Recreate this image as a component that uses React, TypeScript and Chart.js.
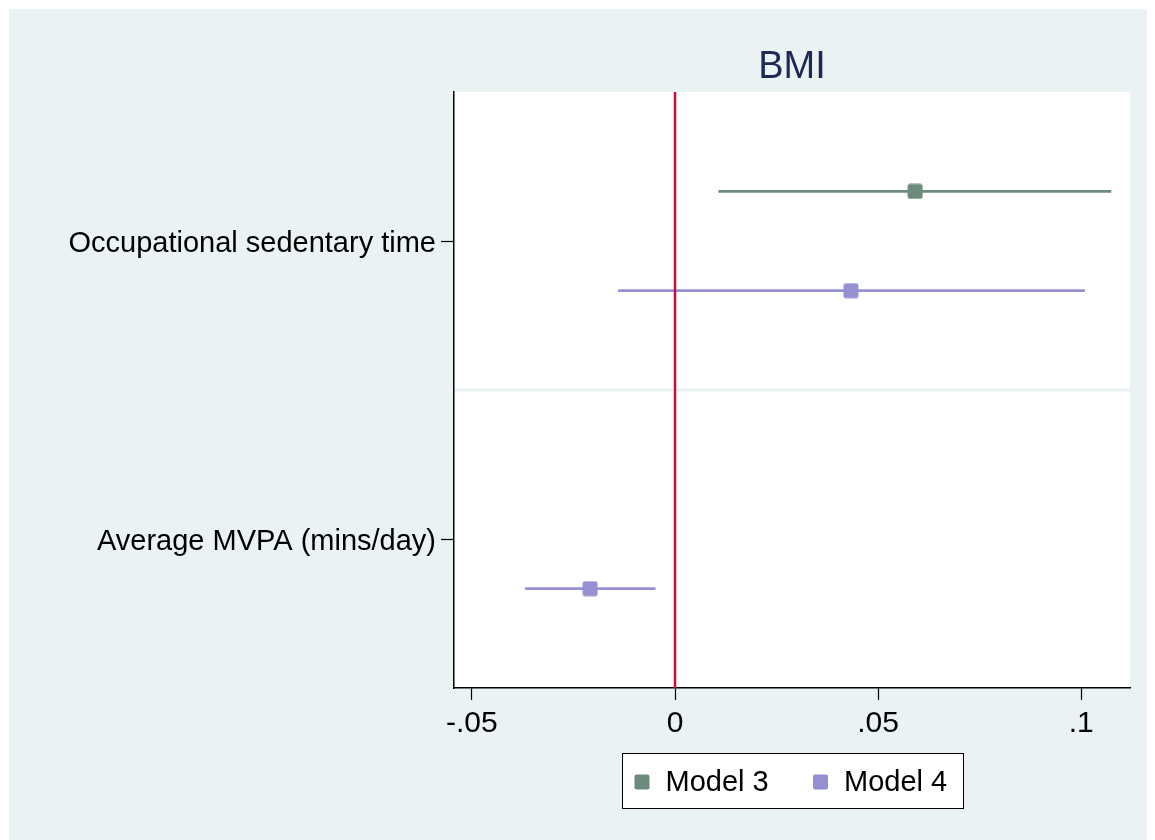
import { useEffect, useRef } from "react";
import { Chart, registerables } from "chart.js";

Chart.register(...registerables);

// ---- data ----
const categories = ["Occupational sedentary time", "Average MVPA (mins/day)"];
const seriesNames = ["Model 3", "Model 4"];
const model3Est: (number | null)[] = [0.0591, null];
const model3Lo: (number | null)[] = [0.0107, null];
const model3Hi: (number | null)[] = [0.1074, null];
const model4Est: (number | null)[] = [0.0433, -0.0209];
const model4Lo: (number | null)[] = [-0.014, -0.0369];
const model4Hi: (number | null)[] = [0.1009, -0.0048];
const xTicks = [-0.05, 0, 0.05, 0.1];
const titleText = "BMI";

// ---- styles ----
const FONT = "'Liberation Sans', Arial, Helvetica, sans-serif";
const BG = "#eaf2f3";
const COLORS = ["#6c8b7d", "#9590d2"];
const ZERO_COLOR = "#cc0c3c";
const TITLE_COLOR = "#1c2a55";
const OFFSETS = [-1 / 6, 1 / 6];

function makeMarker(color: string) {
  const c = document.createElement("canvas");
  c.width = 16;
  c.height = 16;
  const g = c.getContext("2d")!;
  g.fillStyle = color;
  g.beginPath();
  (g as any).roundRect(0.5, 0.5, 15, 15, 2.5);
  g.fill();
  return c;
}

const fmtTick = (v: number) => (v === 0 ? "0" : String(v).replace("0.", "."));

export default function App() {
  const ref = useRef<HTMLCanvasElement>(null);
  useEffect(() => {
    if (!ref.current) return;
    const est = [model3Est, model4Est];
    const lo = [model3Lo, model4Lo];
    const hi = [model3Hi, model4Hi];
    const datasets: any[] = [];
    datasets.push({
      type: "line",
      label: "zero",
      data: [
        { x: 0, y: 0.5 },
        { x: 0, y: 2.5 },
      ],
      borderColor: ZERO_COLOR,
      borderWidth: 2.5,
      pointRadius: 0,
      order: 0,
    });
    seriesNames.forEach((name, s) => {
      categories.forEach((_, i) => {
        if (lo[s][i] == null || hi[s][i] == null) return;
        const y = i + 1 + OFFSETS[s];
        datasets.push({
          type: "line",
          label: name + " CI",
          data: [
            { x: lo[s][i], y },
            { x: hi[s][i], y },
          ],
          borderColor: COLORS[s],
          borderWidth: 2.7,
          pointRadius: 0,
          order: 2,
        });
      });
    });
    seriesNames.forEach((name, s) => {
      const marker = makeMarker(COLORS[s]);
      datasets.push({
        type: "scatter",
        label: name,
        isSeries: true,
        data: categories
          .map((_, i) => (est[s][i] == null ? null : { x: est[s][i], y: i + 1 + OFFSETS[s] }))
          .filter((d) => d != null),
        backgroundColor: COLORS[s],
        borderColor: COLORS[s],
        pointStyle: marker,
        pointRadius: 8,
        order: 1,
      });
    });

    const stataPlugin = {
      id: "stataPlugin",
      beforeDraw(chart: any) {
        const { ctx, chartArea: a } = chart;
        ctx.save();
        ctx.fillStyle = "#ffffff";
        ctx.fillRect(a.left, a.top, a.right - a.left, a.bottom - a.top);
        ctx.restore();
      },
      beforeDatasetsDraw(chart: any) {
        const { ctx, chartArea: a, scales } = chart;
        ctx.save();
        ctx.strokeStyle = BG;
        ctx.lineWidth = 3;
        for (let i = 1; i < categories.length; i++) {
          const y = scales.y.getPixelForValue(i + 0.5);
          ctx.beginPath();
          ctx.moveTo(a.left + 1, y);
          ctx.lineTo(a.right, y);
          ctx.stroke();
        }
        ctx.restore();
      },
      afterDraw(chart: any) {
        const { ctx, chartArea: a } = chart;
        const cx = (a.left + a.right) / 2;
        ctx.save();
        // title
        ctx.fillStyle = TITLE_COLOR;
        ctx.font = `38px ${FONT}`;
        ctx.textAlign = "center";
        ctx.textBaseline = "alphabetic";
        ctx.fillText(titleText, cx, 69);
        // legend
        const bw = 341;
        const bh = 55;
        const bx = Math.round(cx - bw / 2) + 0.5;
        const by = a.bottom + 65 + 0.5;
        ctx.fillStyle = "#ffffff";
        ctx.fillRect(bx, by, bw, bh);
        ctx.strokeStyle = "#000000";
        ctx.lineWidth = 1;
        ctx.strokeRect(bx, by, bw, bh);
        const items = chart.data.datasets.filter((d: any) => d.isSeries);
        const itemX = [19.5, 198];
        ctx.font = `29px ${FONT}`;
        ctx.textAlign = "left";
        ctx.textBaseline = "middle";
        items.forEach((d: any, k: number) => {
          const mx = bx + itemX[k];
          const my = by + bh / 2 + 1;
          ctx.fillStyle = d.backgroundColor;
          ctx.beginPath();
          (ctx as any).roundRect(mx - 7.5, my - 7.5, 15, 15, 2);
          ctx.fill();
          ctx.fillStyle = "#000000";
          ctx.fillText(d.label, mx + 23.5, my + 1);
        });
        ctx.restore();
      },
    };

    const chart = new Chart(ref.current, {
      type: "scatter",
      data: { datasets },
      options: {
        responsive: false,
        animation: false,
        events: [],
        layout: { padding: { top: 83, right: 25, left: 0, bottom: 0 } },
        plugins: {
          legend: { display: false },
          title: { display: false },
          tooltip: { enabled: false },
        },
        scales: {
          x: {
            type: "linear",
            min: -0.0544,
            max: 0.112,
            afterBuildTicks: (sc: any) => {
              sc.ticks = xTicks.map((v) => ({ value: v }));
            },
            afterFit: (sc: any) => {
              sc.height = 152;
            },
            ticks: {
              callback: (v: any) => fmtTick(Number(v)),
              color: "#000000",
              font: { size: 30, family: FONT },
              padding: 6,
              maxRotation: 0,
              autoSkip: false,
            },
            grid: {
              drawOnChartArea: false,
              tickLength: 12,
              tickColor: "#000000",
              tickWidth: 1.2,
            },
            border: { display: true, color: "#000000", width: 1.5 },
          },
          y: {
            type: "linear",
            reverse: true,
            min: 0.5,
            max: categories.length + 0.5,
            afterBuildTicks: (sc: any) => {
              sc.ticks = categories.map((_, i) => ({ value: i + 1 }));
            },
            afterFit: (sc: any) => {
              sc.width = 445;
            },
            ticks: {
              callback: (v: any) => categories[Number(v) - 1] ?? "",
              color: "#000000",
              font: { size: 29, family: FONT },
              padding: 5,
              labelOffset: 3,
              autoSkip: false,
            },
            grid: {
              drawOnChartArea: false,
              tickLength: 13,
              tickColor: "#000000",
              tickWidth: 1.2,
            },
            border: { display: true, color: "#000000", width: 1.5 },
          },
        },
      } as any,
      plugins: [stataPlugin],
    });
    return () => chart.destroy();
  }, []);

  return (
    <div
      style={{
        width: 1146,
        height: 831,
        marginLeft: 1,
        marginTop: 1,
        background: BG,
      }}
    >
      <canvas ref={ref} width={1146} height={831} style={{ display: "block" }} />
    </div>
  );
}
